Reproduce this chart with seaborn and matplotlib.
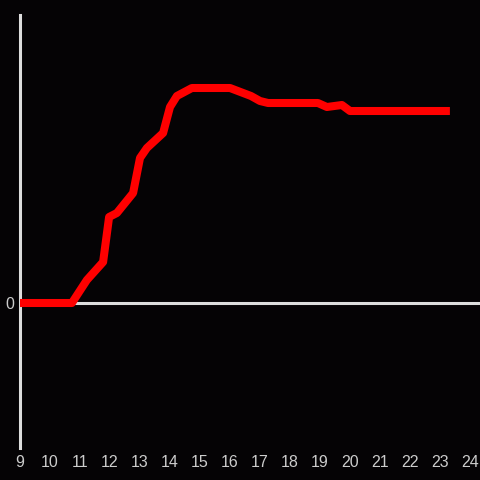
import numpy as np
import pandas as pd
import seaborn as sns
import matplotlib.pyplot as plt

# hours of the day and the value
hours = [9.0, 10.73, 11.23, 11.77, 11.97, 12.23, 12.77, 13.0, 13.23, 13.77,
         14.0, 14.23, 14.73, 16.0, 16.7, 17.0, 17.27, 18.93, 19.23, 19.73, 20.0, 23.33]
values = [0, 0, 23, 41, 86, 90, 110, 145, 155, 170,
          196, 207, 215, 215, 207, 202, 200, 200, 196, 198, 192, 192]
xticks = list(range(9, 25))

bg = '#050305'
axis_col = '#dddddd'

plt.rcParams['font.family'] = ['Liberation Sans', 'DejaVu Sans']

df = pd.DataFrame({'hour': hours, 'value': values})

fig = plt.figure(figsize=(4.8, 4.8), dpi=100, facecolor=bg)
ax = fig.add_axes([20 / 480, 32 / 480, 460 / 480, 433 / 480])
ax.set_facecolor(bg)

sns.lineplot(data=df, x='hour', y='value', ax=ax, color='#ff0000',
             linewidth=5.8, solid_capstyle='butt', solid_joinstyle='round', zorder=3)

ax.axhline(0, color=axis_col, linewidth=2.2, zorder=2)

ax.set_xlim(9, 9 + 460 / 30)
ax.set_ylim(-145, 288)
ax.set_xticks(xticks)
ax.set_xticklabels([str(t) for t in xticks])
ax.set_yticks([0])
ax.set_yticklabels(['0'])
ax.tick_params(axis='both', length=0, colors=axis_col, labelsize=11.5,
               labelcolor='#cccccc')
ax.tick_params(axis='x', pad=5)
ax.tick_params(axis='y', pad=4)
ax.set_xlabel('')
ax.set_ylabel('')

for s in ['top', 'right', 'bottom']:
    ax.spines[s].set_visible(False)
ax.spines['left'].set_color(axis_col)
ax.spines['left'].set_linewidth(2.2)

fig.savefig('out.png', dpi=100, facecolor=bg)
